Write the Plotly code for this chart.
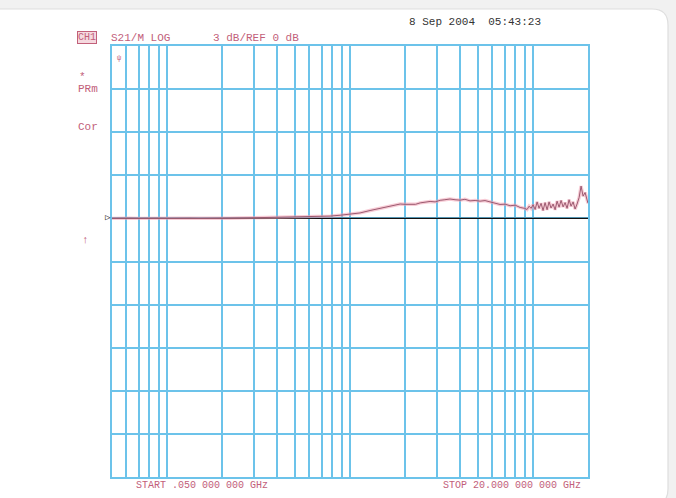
import math
import plotly.graph_objects as go

# S21 transmission sweep, log-frequency axis, 3 dB/div
freq_ghz = [
    0.050, 0.056, 0.0627, 0.070, 0.0805, 0.090, 0.104, 0.118, 0.1335, 0.150,
    0.172, 0.195, 0.221, 0.250, 0.284, 0.320, 0.366, 0.41, 0.47, 0.53,
    0.605, 0.686, 0.778, 0.883, 1.0, 1.135, 1.287, 1.46, 1.66, 1.88,
    2.00, 2.13, 2.28, 2.42, 2.58, 2.74, 2.92, 3.11, 3.30, 3.52,
    3.75, 4.0, 4.25, 4.53, 4.83, 5.14, 5.47, 5.83, 6.2, 6.61,
    7.05, 7.5, 8.0, 8.51, 9.0,
    9.29, 9.53, 9.77, 10.02, 10.28, 10.54, 10.80, 11.08, 11.36, 11.65,
    11.95, 12.25, 12.56, 12.89, 13.22, 13.55, 13.90, 14.25, 14.62, 14.99,
    15.37, 15.76, 16.16, 16.58, 17.00, 17.43, 17.88, 18.33, 18.80, 19.28,
    19.77, 20.0,
]
s21_db = [
    0.00, 0.02, 0.01, 0.00, 0.02, 0.01, 0.00, 0.02, 0.01, 0.00,
    0.02, 0.03, 0.01, 0.03, 0.04, 0.05, 0.05, 0.06, 0.07, 0.09,
    0.11, 0.14, 0.16, 0.22, 0.28, 0.38, 0.55, 0.70, 0.85, 1.00,
    0.98, 0.97, 0.98, 1.08, 1.13, 1.18, 1.15, 1.26, 1.30, 1.35,
    1.30, 1.27, 1.33, 1.22, 1.25, 1.20, 1.24, 1.14, 1.08, 0.97,
    0.99, 0.88, 0.92, 0.76, 0.70,
    0.62, 0.85, 0.70, 0.95, 0.62, 1.15, 0.70, 1.05, 0.55, 1.10,
    0.60, 1.15, 0.72, 1.00, 0.60, 1.20, 0.78, 1.25, 0.80, 1.10,
    0.70, 1.30, 0.85, 1.15, 0.65, 1.00, 1.45, 2.25, 1.55, 1.80,
    1.20, 1.05,
]

start_ghz = 0.05
stop_ghz = 20.0
ref_db = 0.0
db_per_div = 3
y_bottom = -18
y_top = 12

x_grid = [0.06, 0.07, 0.08, 0.09, 0.1, 0.2, 0.3, 0.4, 0.5, 0.6, 0.7, 0.8, 0.9,
          1, 2, 3, 4, 5, 6, 7, 8, 9, 10]
y_grid = list(range(y_bottom, y_top + 1, db_per_div))

# plot-area geometry in pixels
W, H = 676, 498
L, R, T, B = 112, 588, 46, 477


def px(x):
    return (x - L) / (R - L)


def py(y):
    return (B - y) / (B - T)


ROSE = "#c2607a"
GRID = "#6cc3ea"
MONO = "Liberation Mono, DejaVu Sans Mono, monospace"

fig = go.Figure()

# reference line at REF level
fig.add_trace(go.Scatter(
    x=[start_ghz, stop_ghz], y=[ref_db, ref_db], mode="lines",
    line=dict(color="#111111", width=1.3), hoverinfo="skip", showlegend=False,
))
# trace glow
fig.add_trace(go.Scatter(
    x=freq_ghz, y=s21_db, mode="lines",
    line=dict(color="rgba(240,160,178,0.55)", width=3.4),
    hoverinfo="skip", showlegend=False,
))
# trace
fig.add_trace(go.Scatter(
    x=freq_ghz, y=s21_db, mode="lines",
    line=dict(color="#9c5a70", width=1.0), showlegend=False,
    name="S21",
))

# card behind the display
r = 16
cx0, cy0, cx1, cy1 = -5, 9, 668, 505
card_path = (
    f"M {px(cx0)},{py(cy0)} L {px(cx1 - r)},{py(cy0)} "
    f"Q {px(cx1)},{py(cy0)} {px(cx1)},{py(cy0 + r)} "
    f"L {px(cx1)},{py(cy1 - r)} Q {px(cx1)},{py(cy1)} {px(cx1 - r)},{py(cy1)} "
    f"L {px(cx0)},{py(cy1)} Z"
)
shapes = [dict(type="path", xref="paper", yref="paper", path=card_path,
               fillcolor="white", line=dict(color="#dedede", width=1.2),
               layer="below")]

annotations = []


def label(text, x, y, size=11, color=ROSE, xanchor="left", **kw):
    annotations.append(dict(
        text=text, x=px(x), y=py(y), xref="paper", yref="paper",
        xanchor=xanchor, yanchor="middle", showarrow=False,
        font=dict(family=MONO, size=size, color=color), **kw))


label("CH1", 77, 38, size=10, bgcolor="#f5d9df", bordercolor=ROSE,
      borderwidth=1, borderpad=0)
label("S21/M LOG", 109, 38)
label("3 dB/REF 0 dB", 211, 38)
label("8 Sep 2004  05:43:23", 407, 22, color="#333333")
label("*", 77, 77, size=11)
label("PRm", 76, 89, size=11)
label("Cor", 76, 127, size=11)
label("↑", 80, 240, size=11)
label("ψ", 115, 58, size=7)
label("START .050 000 000 GHz", 134, 485, size=10)
label("STOP 20.000 000 000 GHz", 441, 485, size=10)
label("▷", 113, 218, size=9, color="#222222", xanchor="right")

fig.update_layout(
    width=W, height=H,
    margin=dict(l=L, r=W - R, t=T, b=H - B),
    paper_bgcolor="#f1f1f1",
    plot_bgcolor="white",
    shapes=shapes,
    annotations=annotations,
    showlegend=False,
    xaxis=dict(
        type="log", range=[math.log10(start_ghz), math.log10(stop_ghz)],
        tickvals=x_grid, showticklabels=False, ticks="",
        showgrid=True, gridcolor=GRID, gridwidth=1.6,
        showline=True, linecolor=GRID, linewidth=1.6, mirror=True,
        zeroline=False, fixedrange=True,
    ),
    yaxis=dict(
        range=[y_bottom, y_top], tickvals=y_grid, showticklabels=False,
        ticks="", showgrid=True, gridcolor=GRID, gridwidth=1.6,
        showline=True, linecolor=GRID, linewidth=1.6, mirror=True,
        zeroline=False, fixedrange=True,
    ),
)

fig.write_html("out.html", config={"displayModeBar": False})
